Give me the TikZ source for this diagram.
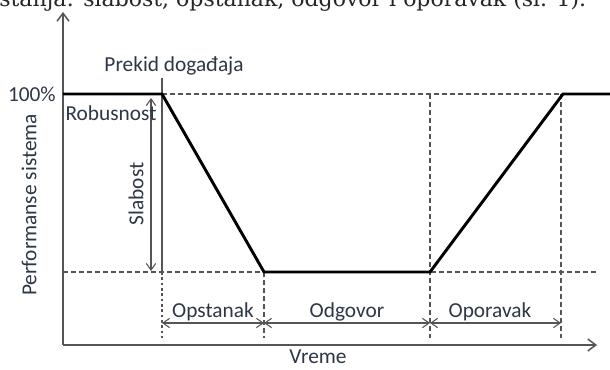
\documentclass[tikz,border=0pt]{standalone}
\usepackage{fontspec}
\setmainfont{Carlito}
\newfontfamily\textefont{DejaVu Serif}
\usepackage{xcolor}
\usepackage{tikz}
\usetikzlibrary{arrows.meta}
\def\largeur{610}
\def\hauteur{370}
\definecolor{encre}{RGB}{45,55,70}
\definecolor{trait}{RGB}{85,85,85}
\tikzset{
  etiquette/.style={text=encre, font=\fontsize{16}{18}\selectfont, inner sep=0pt},
  pointille/.style={trait, line width=0.9pt, dash pattern=on 3.5pt off 2.5pt},
  courbe/.style={black, line width=2.2pt, line join=miter},
  axe/.style={trait, line width=1.1pt},
  fleche/.style={trait, line width=0.8pt, {Straight Barb[length=5pt,width=7pt]}-{Straight Barb[length=5pt,width=7pt]}}
}

\begin{document}
\begin{tikzpicture}[x=0.75pt, y=-0.75pt]
\useasboundingbox (0,0) rectangle (\largeur,\hauteur);
\fill[white] (0,0) rectangle (\largeur,\hauteur);
%\draw[step=10, line width=0.1pt, black!20] (0,0) grid (\largeur,\hauteur);
    % points de la courbe
    \coordinate (o) at (63,345);
    \coordinate (c0) at (63,94);
    \coordinate (c1) at (162,94);
    \coordinate (c2) at (264,272);
    \coordinate (c3) at (430,272);
    \coordinate (c4) at (563,94);
    \coordinate (c5) at (610,94);
    \coordinate (yhaut) at (63,12);
    \coordinate (xfin) at (597,345);
    % texte coupe en haut
    \node[anchor=base west, inner sep=0pt, font=\textefont\fontsize{16.5}{20}\selectfont, text=black!85] (phrase) at (-1,7) {stanja: slabost, opstanak, odgovor i oporavak (sl. 1).};
    % lignes pointillees
    \draw[pointille] (c1) -- (c4);
    \draw[pointille] (63,272) -- (597,272);
    \draw[pointille] (c2) -- (264,338);
    \draw[pointille] (430,94) -- (430,338);
    \draw[pointille] (561,94) -- (561,338);
    \draw[trait, line width=0.9pt, dash pattern=on 2pt off 2pt] (162,272) -- (162,338);
    \draw[trait, line width=0.9pt] (162,78) -- (162,272);
    % axes
    \draw[axe, -{Straight Barb[length=6pt,width=9pt]}] (o) -- (yhaut);
    \draw[axe, -{Straight Barb[length=6pt,width=9pt]}] (o) -- (xfin);
    % courbe
    \draw[courbe] (c0) -- (c1) -- (c2) -- (c3) -- (c4) -- (c5);
    % fleches
    \draw[fleche] (151,98) -- (151,271);
    \draw[fleche] (162,323) -- (264,323);
    \draw[fleche] (264,323) -- (430,323);
    \draw[fleche] (430,323) -- (561,323);
    % textes
    \node[etiquette, anchor=east] (cent) at (56,94) {100\%};
    \node[etiquette] (robus) at (111,113) {Robusnost};
    \node[etiquette] (prekid) at (174,66) {Prekid događaja};
    \node[etiquette, rotate=90] (slab) at (136,194) {Slabost};
    \node[etiquette, rotate=90] (perf) at (29,205) {Performanse sistema};
    \node[etiquette] (vreme) at (318,357) {Vreme};
    \node[etiquette] (opst) at (213,312) {Opstanak};
    \node[etiquette] (odg) at (347,312) {Odgovor};
    \node[etiquette] (opor) at (490,312) {Oporavak};
\end{tikzpicture}
\end{document}
